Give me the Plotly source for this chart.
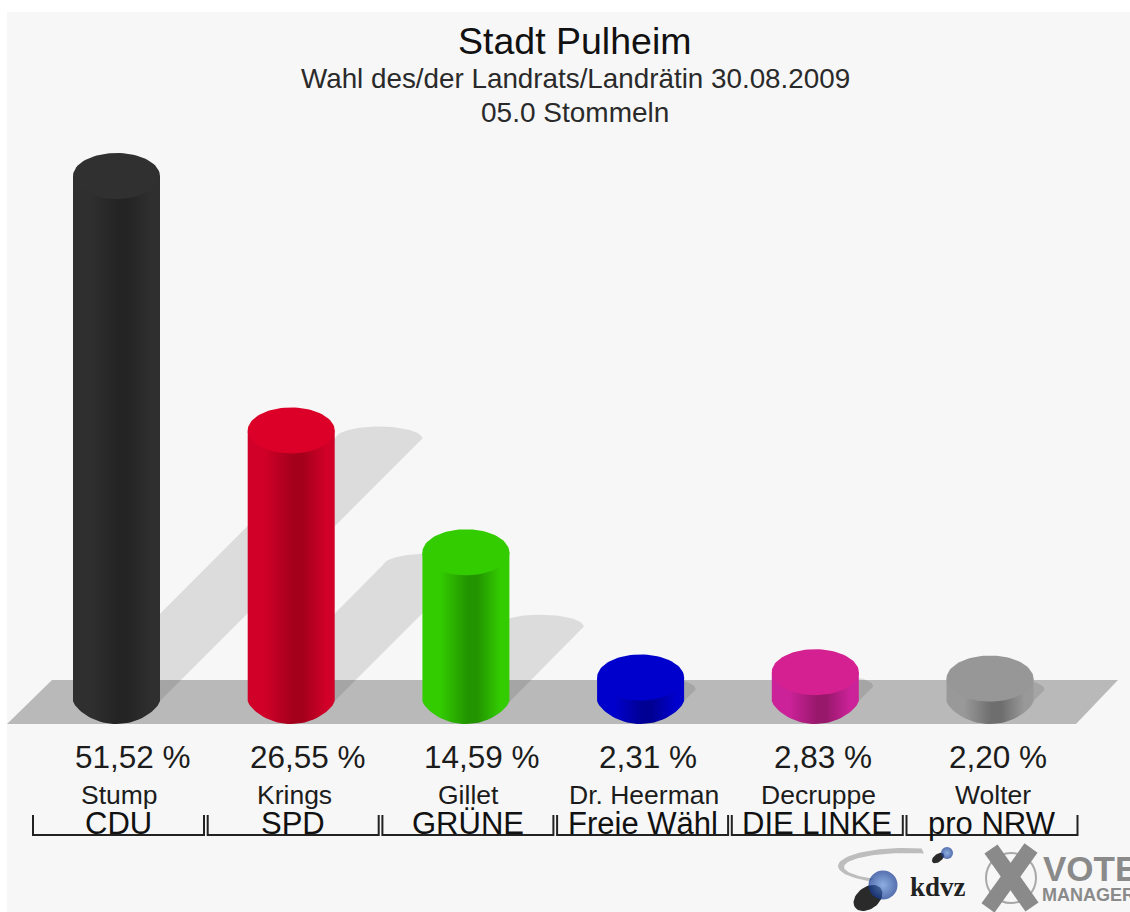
import numpy as np
import plotly.graph_objects as go

# ---- data ----
candidates = ["Stump", "Krings", "Gillet", "Dr. Heerman", "Decruppe", "Wolter"]
parties = ["CDU", "SPD", "GRÜNE", "Freie Wähl", "DIE LINKE", "pro NRW"]
values = [51.52, 26.55, 14.59, 2.31, 2.83, 2.20]
value_labels = ["51,52 %", "26,55 %", "14,59 %", "2,31 %", "2,83 %", "2,20 %"]
title_lines = ["Stadt Pulheim", "Wahl des/der Landrats/Landrätin 30.08.2009", "05.0 Stommeln"]

# ---- style ----
edge_colors = ["#2f2f2f", "#d00028", "#33cc00", "#0000cc", "#cc2299", "#999999"]
core_colors = ["#242424", "#a4001c", "#229400", "#000094", "#98186c", "#6e6e6e"]
top_colors = ["#303030", "#dc0028", "#33cc00", "#0000cc", "#d42090", "#979797"]
W, H = 1130, 912
X0, DX = 116.5, 174.7      # pixel of first category, pixels per category
Y0, DY = 701.0, 10.19      # pixel of value 0, pixels per percent
RX, RY = 43.5, 23.0        # cylinder end ellipse radii, px
FONT = "Liberation Sans"


def xd(px):
    return (px - X0) / DX


def yd(px):
    return (Y0 - px) / DY


rx, ry = RX / DX, RY / DY
t_top = np.linspace(np.pi, 0, 41)
t_bot = np.linspace(np.pi, 2 * np.pi, 41)
bot_y = -ry * np.abs(np.sin(t_bot)) ** 1.45   # the base curve has a visible corner at each side
fig = go.Figure()

# floor
fig.add_trace(go.Scatter(
    x=[xd(7), xd(52), xd(1118), xd(1076), xd(7)],
    y=[yd(724), yd(680), yd(680), yd(724), yd(724)],
    mode="lines", line=dict(width=0), fill="toself", fillcolor="#b9b9b9", hoverinfo="skip"))

# shadows (45 degree projection, half of the column height)
for i, v in enumerate(values):
    shift_x = (v * DY / 2) / DX
    shift_y = v / 2
    sy = 12.0 / DY
    xs = np.concatenate([[i - rx], i + shift_x + rx * np.cos(t_top), [i + rx], i + rx * np.cos(t_bot[::-1]), [i - rx]])
    ys = np.concatenate([[0], shift_y + sy * np.sin(t_top), [0], bot_y[::-1], [0]])
    fig.add_trace(go.Scatter(x=xs, y=ys, mode="lines", line=dict(width=0), fill="toself",
                             fillcolor="rgba(0,0,0,0.105)", hoverinfo="skip"))

# cylinders
for i, v in enumerate(values):
    xs = np.concatenate([i + rx * np.cos(t_bot), [i + rx, i - rx, i - rx]])
    ys = np.concatenate([bot_y, [v, v, 0]])
    fig.add_trace(go.Scatter(
        x=xs, y=ys, mode="lines", line=dict(width=0), fill="toself", hoverinfo="skip",
        fillgradient=dict(type="horizontal", colorscale=[
            [0, edge_colors[i]], [0.2, edge_colors[i]], [0.52, core_colors[i]],
            [0.63, core_colors[i]], [0.9, edge_colors[i]], [1, edge_colors[i]]])))
    t = np.linspace(0, 2 * np.pi, 81)
    fig.add_trace(go.Scatter(
        x=i + rx * np.cos(t), y=v + ry * np.sin(t), mode="lines", line=dict(width=0),
        fill="toself", fillcolor=top_colors[i], hoverinfo="skip"))

# brackets under the labels
for i in range(len(values)):
    c = i + 2 / DX
    hw = 85.5 / DX
    fig.add_trace(go.Scatter(
        x=[c - hw, c - hw, c + hw, c + hw], y=[yd(815), yd(835), yd(835), yd(815)],
        mode="lines", line=dict(color="#222222", width=2), hoverinfo="skip"))

# logos
arc_o = np.linspace(0.42 * np.pi, 1.32 * np.pi, 50)
arc_x = np.concatenate([905 + 67 * np.cos(arc_o), (908 + 64 * np.cos(arc_o))[::-1]])
arc_y = np.concatenate([866 - 18 * np.sin(arc_o), (867 - 14 * np.sin(arc_o))[::-1]])
fig.add_trace(go.Scatter(x=xd(arc_x), y=yd(arc_y), mode="lines", line=dict(width=0),
                         fill="toself", fillcolor="#bdbdbd", hoverinfo="skip"))
for cx, cy, a, b in [(868, 898, 16, 11), (938, 858, 7, 4)]:
    t = np.linspace(0, 2 * np.pi, 50)
    ex = a * np.cos(t) * 0.8 + b * np.sin(t) * 0.6
    ey = -a * np.cos(t) * 0.6 + b * np.sin(t) * 0.8
    fig.add_trace(go.Scatter(x=xd(cx + ex), y=yd(cy + ey), mode="lines", line=dict(width=0),
                             fill="toself", fillcolor="#2a2a2a", hoverinfo="skip"))
fig.add_trace(go.Scatter(x=[xd(883), xd(947)], y=[yd(885), yd(853)], mode="markers",
                         marker=dict(size=[29, 12], color="#10368f", line=dict(width=0),
                                     gradient=dict(type="radial", color="#5f8fd8")),
                         hoverinfo="skip"))
fig.add_trace(go.Scatter(x=[xd(1011)], y=[yd(878)], mode="markers",
                         marker=dict(size=50, color="rgba(0,0,0,0)",
                                     line=dict(color="#a8a8a8", width=2)), hoverinfo="skip"))
fig.add_trace(go.Scatter(x=[xd(988), xd(1031)], y=[yd(908), yd(848)], mode="lines",
                         line=dict(color="#8a8a8a", width=16), hoverinfo="skip"))
fig.add_trace(go.Scatter(x=[xd(991), xd(1032)], y=[yd(849), yd(907)], mode="lines",
                         line=dict(color="#8a8a8a", width=16), hoverinfo="skip"))


def note(text, x, y, size, color="#222222", anchor="center", family=FONT):
    fig.add_annotation(text=text, x=xd(x), y=yd(y), xref="x", yref="y", showarrow=False,
                       xanchor=anchor, yanchor="middle", align=anchor,
                       font=dict(family=family, size=size, color=color))


note(title_lines[0], 574.5, 41, 37.5, "#111111")
note(title_lines[1], 575, 78, 27.8, "#2a2a2a")
note(title_lines[2], 575, 112, 28, "#2a2a2a")
for i in range(len(values)):
    cx = X0 + i * DX
    note(value_labels[i], cx - RX, 757, 31.5, "#1c1c1c", anchor="left")
    note(candidates[i], cx + 3, 795, 26.5, "#1c1c1c")
    note(parties[i], cx + 2, 823, 31, "#111111")
note("<b>kdvz</b>", 938, 887, 27, "#222222", family="Liberation Serif")
note("<b>VOTE</b>", 1041, 868, 35, "#8a8a8a", anchor="left")
note("<b>MANAGER</b>", 1040, 895, 18, "#8a8a8a", anchor="left")

fig.update_layout(
    width=W, height=H, margin=dict(l=0, r=0, t=0, b=0), showlegend=False,
    paper_bgcolor="#ffffff", plot_bgcolor="rgba(0,0,0,0)",
    xaxis=dict(range=[xd(0), xd(W)], visible=False, fixedrange=True),
    yaxis=dict(range=[yd(H), yd(0)], visible=False, fixedrange=True),
    shapes=[dict(type="rect", xref="x", yref="y", x0=xd(7), x1=xd(W), y0=yd(12), y1=yd(H),
                 line=dict(width=0), fillcolor="#f7f7f7", layer="below")],
)
fig.write_html("out.html", config=dict(displayModeBar=False),
               post_script="document.body.style.margin='0';document.body.style.overflow='hidden';")
